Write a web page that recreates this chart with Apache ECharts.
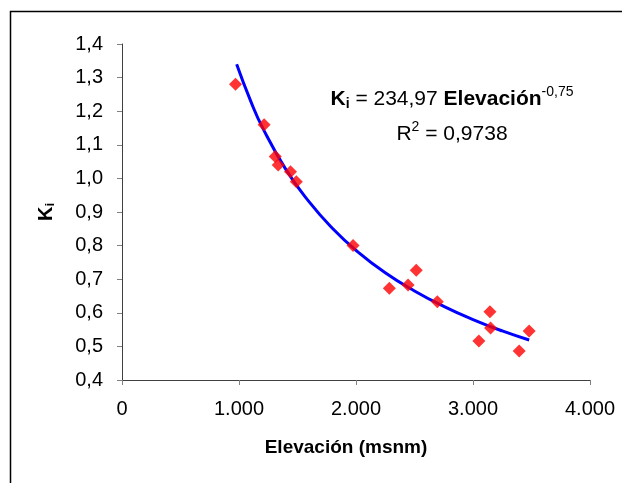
<!DOCTYPE html>
<html><head><meta charset="utf-8">
<script src="https://cdn.jsdelivr.net/npm/echarts@6/dist/echarts.min.js"></script>
<style>html,body{margin:0;padding:0;background:#fff}#c{width:622px;height:483px}</style>
</head><body><div id="c"></div>
<script>
// Observed points (Elevación msnm, Ki)
const elevacion = [970, 1215, 1310, 1335, 1440, 1490, 1975, 2285, 2445, 2515, 2695, 3050, 3145, 3150, 3395, 3480];
const ki =        [1.28, 1.16, 1.065, 1.04, 1.02, 0.99, 0.80, 0.673, 0.683, 0.727, 0.633, 0.516, 0.603, 0.555, 0.486, 0.546];
// Trend line
const trendX = [980, 1100, 1200, 1400, 1600, 1800, 2000, 2250, 2500, 2750, 3000, 3250, 3480];
const trendY = [1.34, 1.23, 1.152, 1.027, 0.93, 0.851, 0.786, 0.719, 0.665, 0.619, 0.58, 0.546, 0.519];
const xTicks = ['0', '1.000', '2.000', '3.000', '4.000'];

const FONT = '"Liberation Sans", Arial, sans-serif';
const chart = echarts.init(document.getElementById('c'));
chart.setOption({
  animation: false,
  backgroundColor: '#fff',
  grid: { left: 122, top: 44, right: 32, bottom: 103 },
  xAxis: {
    type: 'value', min: 0, max: 4000, interval: 1000,
    axisLine: { show: true, lineStyle: { color: '#404040', width: 1 } },
    axisTick: { show: true, length: 5, lineStyle: { color: '#808080' } },
    splitLine: { show: false },
    axisLabel: { color: '#000', fontFamily: FONT, fontSize: 20, margin: 19,
      formatter: v => xTicks[Math.round(v / 1000)] },
    name: 'Elevación (msnm)', nameLocation: 'middle', nameGap: 58,
    nameTextStyle: { color: '#000', fontFamily: FONT, fontSize: 19, fontWeight: 'bold', padding: [0, 20, 0, 0] }
  },
  yAxis: {
    type: 'value', min: 0.4, max: 1.4, interval: 0.1,
    axisLine: { show: true, lineStyle: { color: '#404040', width: 1 } },
    axisTick: { show: true, length: 5, lineStyle: { color: '#808080' } },
    splitLine: { show: false },
    axisLabel: { color: '#000', fontFamily: FONT, fontSize: 20, margin: 19,
      formatter: v => v.toFixed(1).replace('.', ',') },
    name: '{b|K}{s|i}', nameLocation: 'middle', nameGap: 65, nameRotate: 90,
    nameTextStyle: { rich: {
      b: { fontFamily: FONT, fontSize: 20, fontWeight: 'bold', color: '#000' },
      s: { fontFamily: FONT, fontSize: 13, fontWeight: 'bold', color: '#000', padding: [9,0,0,0] }
    } }
  },
  graphic: [
    { type: 'rect', shape: { x: 10.5, y: 11.5, width: 700, height: 600 },
      style: { fill: 'none', stroke: '#000', lineWidth: 1.5 }, silent: true },
    { type: 'text', x: 452, y: 82, silent: true,
      style: {
        text: '{b|K}{sub|i}{n| = 234,97 }{b|Elevación}{sup|-0,75}\n{n|R}{sup|2}{n| = 0,9738}',
        align: 'center', verticalAlign: 'top',
        rich: {
          b: { fontFamily: FONT, fontSize: 21, fontWeight: 'bold', fill: '#000', lineHeight: 35 },
          n: { fontFamily: FONT, fontSize: 21, fill: '#000', lineHeight: 35 },
          sub: { fontFamily: FONT, fontSize: 14, fontWeight: 'bold', fill: '#000', lineHeight: 35, padding: [9,0,0,0] },
          sup: { fontFamily: FONT, fontSize: 14, fill: '#000', lineHeight: 35, padding: [0,0,14,0] }
        }
      }
    }
  ],
  series: [
    { type: 'line', data: trendX.map((x, i) => [x, trendY[i]]), smooth: true, showSymbol: false,
      lineStyle: { color: '#0000FF', width: 3 }, z: 2 },
    { type: 'scatter', data: elevacion.map((x, i) => [x, ki[i]]), symbol: 'diamond', symbolSize: 13,
      itemStyle: { color: '#FF0000' }, z: 3 }
  ]
});
</script></body></html>
